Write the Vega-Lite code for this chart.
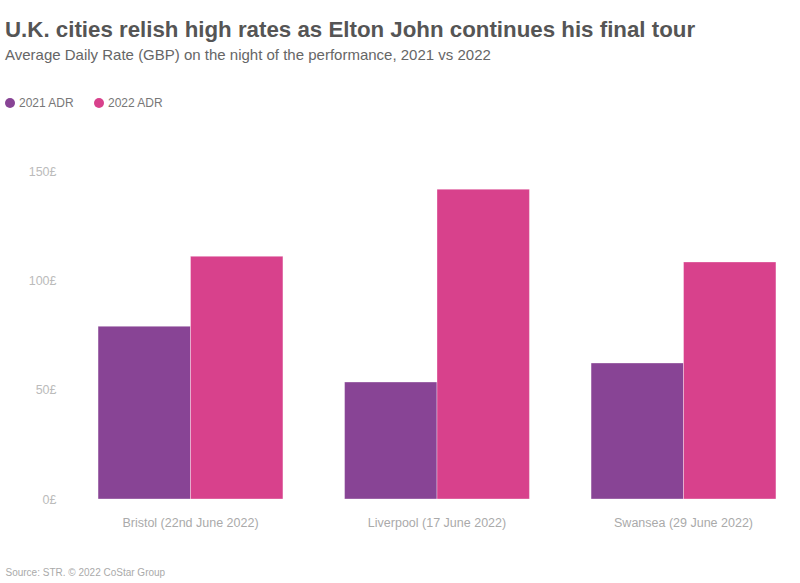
{
  "$schema": "https://vega.github.io/schema/vega-lite/v6.json",
  "autosize": "none",
  "width": 706,
  "height": 328,
  "padding": {"left": 84, "top": 171, "right": 10, "bottom": 84},
  "background": "white",
  "title": {
    "text": "U.K. cities relish high rates as Elton John continues his final tour",
    "subtitle": "Average Daily Rate (GBP) on the night of the performance, 2021 vs 2022",
    "anchor": "start",
    "frame": "group",
    "dx": -79,
    "dy": -30,
    "font": "Liberation Sans",
    "fontSize": 22.3,
    "fontWeight": "bold",
    "color": "#555555",
    "subtitleFont": "Liberation Sans",
    "subtitleFontSize": 15,
    "subtitleColor": "#666666",
    "subtitlePadding": 7
  },
  "data": {
    "values": [
      {"city": "Bristol (22nd June 2022)", "series": "2021 ADR", "adr": 79},
      {"city": "Bristol (22nd June 2022)", "series": "2022 ADR", "adr": 111},
      {"city": "Liverpool (17 June 2022)", "series": "2021 ADR", "adr": 53.5},
      {"city": "Liverpool (17 June 2022)", "series": "2022 ADR", "adr": 141.7},
      {"city": "Swansea (29 June 2022)", "series": "2021 ADR", "adr": 62.2},
      {"city": "Swansea (29 June 2022)", "series": "2022 ADR", "adr": 108.4}
    ]
  },
  "mark": {"type": "bar", "stroke": "#ffffff", "strokeOpacity": 0.35, "strokeWidth": 1},
  "encoding": {
    "x": {
      "field": "city",
      "type": "nominal",
      "sort": null,
      "scale": {"paddingInner": 0.25, "paddingOuter": 0.057},
      "axis": {
        "title": "Source: STR. © 2022 CoStar Group",
        "titleAnchor": "start",
        "titleAlign": "left",
        "titleBaseline": "top",
        "titleX": -79,
        "titleY": 68,
        "titleFont": "Liberation Sans",
        "titleFontSize": 10,
        "titleFontWeight": "normal",
        "titleColor": "#aaaaaa",
        "labelAngle": 0,
        "labelFont": "Liberation Sans",
        "labelFontSize": 12.5,
        "labelColor": "#aaaaaa",
        "labelPadding": 17,
        "ticks": false,
        "domain": false
      }
    },
    "xOffset": {"field": "series", "type": "nominal", "scale": {"paddingInner": 0, "paddingOuter": 0}},
    "y": {
      "field": "adr",
      "type": "quantitative",
      "scale": {"domain": [0, 150]},
      "axis": {
        "title": null,
        "values": [0, 50, 100, 150],
        "labelExpr": "datum.label + '£'",
        "labelFont": "Liberation Sans",
        "labelFontSize": 12.5,
        "labelColor": "#bbbbbb",
        "labelPadding": 28,
        "ticks": false,
        "domain": false,
        "grid": false
      }
    },
    "color": {
      "field": "series",
      "type": "nominal",
      "scale": {"domain": ["2021 ADR", "2022 ADR"], "range": ["#884495", "#d8418c"]},
      "legend": {
        "title": null,
        "orient": "none",
        "direction": "horizontal",
        "legendX": -80,
        "legendY": -74,
        "symbolType": "circle",
        "symbolSize": 100,
        "symbolOpacity": 1,
        "symbolStrokeWidth": 0,
        "labelFont": "Liberation Sans",
        "labelFontSize": 12,
        "labelColor": "#777777",
        "labelOffset": 3,
        "columnPadding": 18
      }
    }
  },
  "config": {"view": {"stroke": null}}
}
